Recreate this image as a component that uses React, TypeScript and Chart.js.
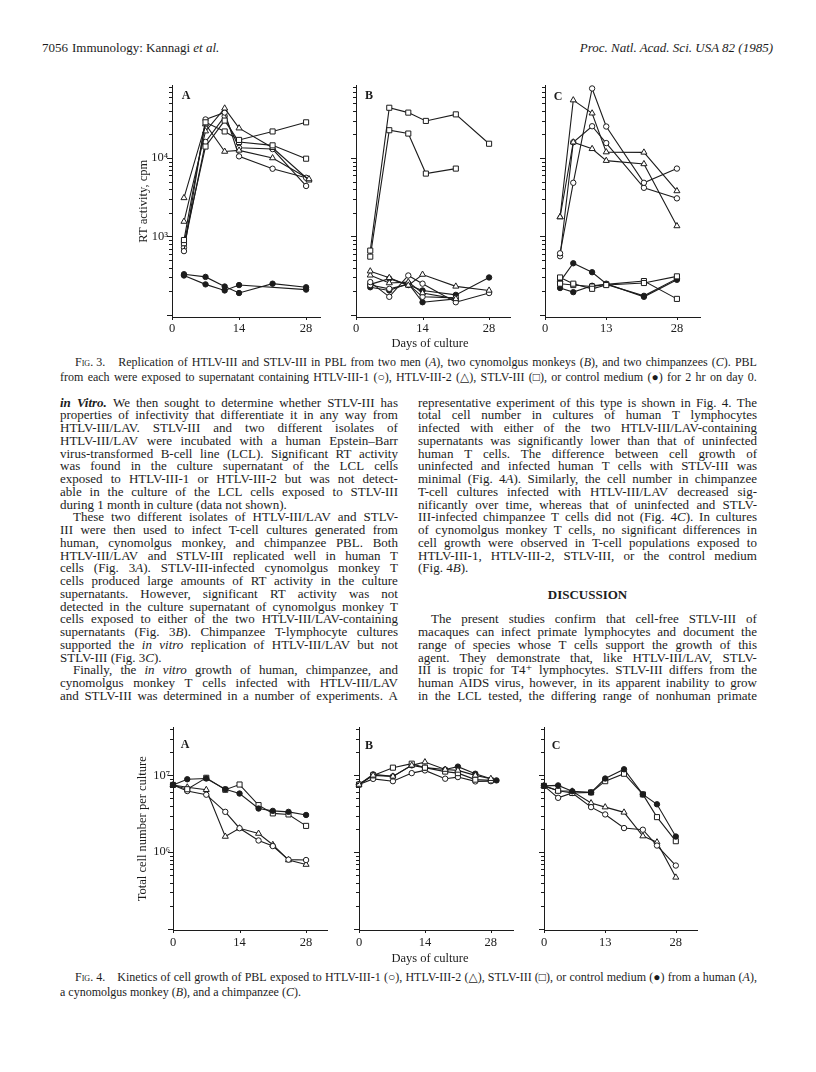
import React, { useEffect, useRef } from "react";
import { Chart, registerables } from "chart.js";

Chart.register(...registerables);

const INK = "#1c1c1c";
const SERIF = '"Liberation Serif", "Times New Roman", Times, "DejaVu Serif", serif';
Chart.defaults.font.family = SERIF;

type Kind = "circle" | "triangle" | "square" | "filled";
type Series = { days: number[]; values: (number | null)[]; kind: Kind };

// ---------------- Fig. 3 : RT activity, cpm ----------------
const fig3A_days = [2.5, 7, 11, 14, 21, 28];
const fig3A_triDays = [2.5, 7, 11, 14, 21, 28.6];
const fig3A_sq1 = [900, 28500, 21800, 17000, 21800, 28500];
const fig3A_sq2 = [820, 14000, 30000, 16000, 14500, 9800];
const fig3A_tri1 = [3100, 27000, 12100, 12500, 10000, 5400];
const fig3A_tri2 = [1550, 22000, 43000, 24000, 13500, 5200];
const fig3A_circ1 = [650, 31000, 38000, 10500, 7300, 5600];
const fig3A_circ2 = [720, 16000, 34000, 13500, 13000, 4400];
const fig3A_ctl1 = [330, 305, 230, 190, 250, 225];
const fig3A_ctl2 = [318, 245, 205, 240, null, 210];

const fig3B_days = [3, 7, 11, 14, 21, 28];
const fig3B_sqDays = [3, 7, 11, 14.7, 21, 28];
const fig3B_sq1 = [660, 43700, 37900, 29700, 36000, 15200];
const fig3B_sq2 = [553, 22600, 20500, 6330, 7330, null];
const fig3B_tri1 = [361, 297, 238, 327, 231, 205];
const fig3B_tri2 = [320, 255, 262, 190, 160, null];
const fig3B_circ1 = [262, 170, 318, 250, 145, 190];
const fig3B_circ2 = [240, 215, 245, 170, 165, null];
const fig3B_ctl1 = [245, 290, 240, 205, 180, 300];
const fig3B_ctl2 = [225, 205, 252, 145, 160, null];

const fig3C_days = [3.2, 6, 10, 13, 21, 28];
const fig3C_tri1 = [1770, 54700, 37200, 11900, 11800, 3800];
const fig3C_tri2 = [1770, 15900, 13100, 9250, 8400, 1360];
const fig3C_circ1 = [610, 4830, 77000, 25200, 4830, 7330];
const fig3C_circ2 = [560, 15900, 25400, 15500, 4170, 3060];
const fig3C_sq1 = [300, 250, 215, 240, 255, 310];
const fig3C_sq2 = [250, 240, 230, 245, 270, 160];
const fig3C_ctl1 = [265, 455, 350, 250, 170, 280];
const fig3C_ctl2 = [220, 195, 235, 245, 175, 290];

// ---------------- Fig. 4 : total cell number per culture ----------------
const fig4A_days = [0, 3, 7, 11, 14, 18, 21, 24.3, 28];
const fig4A_ctl = [7.5e6, 8.9e6, 9.1e6, 6.6e6, 5.8e6, 3.7e6, 3.45e6, 3.35e6, 3.05e6];
const fig4A_sq = [7.5e6, 6.6e6, 9.3e6, 6.5e6, 7.6e6, 4.1e6, 3.2e6, 3.1e6, 2.2e6];
const fig4A_circ = [7.5e6, 6.25e6, 5.6e6, 3.35e6, 2.05e6, 1.42e6, 1.2e6, 8.0e5, 7.9e5];
const fig4A_tri = [7.5e6, 7.0e6, 6.5e6, 1.6e6, 2.05e6, 1.75e6, 1.25e6, 7.9e5, 6.9e5];

const fig4B_days = [0, 3, 7.2, 11.2, 14, 18.3, 21, 24.7, 28];
const fig4B_ctlDays = [0, 3, 7.2, 11.2, 14, 18.3, 21, 24.7, 29.2];
const fig4B_tri = [7.6e6, 1.0e7, 9.7e6, 1.35e7, 1.49e7, 1.19e7, 1.16e7, 1.0e7, 9.05e6];
const fig4B_sq = [7.6e6, 1.0e7, 1.26e7, 1.42e7, 1.26e7, 1.12e7, 1.07e7, 8.8e6, 8.6e6];
const fig4B_ctl = [7.6e6, 1.03e7, 9.7e6, 1.35e7, 1.26e7, 1.19e7, 1.3e7, 1.05e7, 8.6e6];
const fig4B_circ = [7.6e6, 9.0e6, 8.4e6, 1.07e7, 1.16e7, 9.05e6, 9.5e6, 8.35e6, 8.4e6];

const fig4C_days = [0, 3, 6, 10, 13, 17, 21, 24, 28];
const fig4C_ctl = [7.3e6, 7.4e6, 6.2e6, 6.0e6, 9.1e6, 1.2e7, 5.65e6, 4.2e6, 1.6e6];
const fig4C_sq = [7.3e6, 6.3e6, 5.9e6, 6.0e6, 8.4e6, 1.05e7, 5.65e6, 2.86e6, 1.39e6];
const fig4C_circ = [7.3e6, 5.1e6, 5.9e6, 3.86e6, 3.1e6, 2.06e6, 1.96e6, 1.22e6, 6.7e5];
const fig4C_tri = [7.3e6, 6.3e6, 6.2e6, 4.36e6, 3.86e6, 3.3e6, 1.62e6, 1.35e6, 4.7e5];

// ---------------- axes ----------------
const xTicks14 = [0, 14, 28];
const xTicks13 = [0, 13, 28];
const fig3_yLabelled = [1000, 10000];
const fig4_yLabelled = [1e6, 1e7];
const SUP: Record<string, string> = { "2": "²", "3": "³", "4": "⁴", "5": "⁵", "6": "⁶", "7": "⁷" };

function logTickValues(min: number, max: number) {
  const out: number[] = [];
  for (let e = Math.floor(Math.log10(min)); e <= Math.ceil(Math.log10(max)); e++) {
    for (let m = 1; m <= 9; m++) {
      const v = m * Math.pow(10, e);
      if (v >= min * 1.02 && v <= max) out.push(v);
    }
  }
  return out;
}

type PanelCfg = {
  axisX: number; top: number; bottom: number; right: number;
  xMax: number; yMin: number; yMax: number; xTicks: number[];
  yLabelled: number[] | null; yTitle: string | null; titleCenter: number;
  xPad: number; yPad: number; series: Series[];
};

const YW = 48, TP = 10, RP = 10, XH = 26;
const TICK_SIZE = 12.5;
const TITLE_SIZE = 12.5;

const tickPlugin = {
  id: "tickmarks",
  afterDraw(chart: any) {
    const { ctx, chartArea: a } = chart;
    const ys = chart.scales.y, xs = chart.scales.x;
    ctx.save();
    ctx.strokeStyle = INK;
    ctx.lineWidth = 1;
    ys.ticks.forEach((t: any) => {
      const py = Math.round(ys.getPixelForValue(t.value)) + 0.5;
      const lg = Math.log10(t.value);
      const len = Math.abs(lg - Math.round(lg)) < 1e-6 ? 5 : 3;
      ctx.beginPath();
      ctx.moveTo(a.left, py);
      ctx.lineTo(a.left - len, py);
      ctx.stroke();
    });
    xs.ticks.forEach((t: any) => {
      const px = Math.round(xs.getPixelForValue(t.value)) + 0.5;
      ctx.beginPath();
      ctx.moveTo(px, a.bottom);
      ctx.lineTo(px, a.bottom + 3);
      ctx.stroke();
    });
    ctx.restore();
  },
};

function styleFor(kind: Kind) {
  if (kind === "triangle") return { pointStyle: "triangle", pointRadius: 3.5, bg: "#fff" };
  if (kind === "square") return { pointStyle: "rect", pointRadius: 3.6, bg: "#fff" };
  if (kind === "filled") return { pointStyle: "circle", pointRadius: 2.7, bg: INK };
  return { pointStyle: "circle", pointRadius: 2.7, bg: "#fff" };
}

function Panel({ cfg }: { cfg: PanelCfg }) {
  const ref = useRef<HTMLCanvasElement>(null);
  const left = cfg.axisX - YW;
  const top = cfg.top - TP;
  const width = cfg.right - left + RP;
  const height = cfg.bottom + XH - top;
  useEffect(() => {
    const yVals = logTickValues(cfg.yMin, cfg.yMax);
    const datasets = cfg.series.map((s) => {
      const st = styleFor(s.kind);
      const data: { x: number; y: number }[] = [];
      s.days.forEach((d, i) => {
        const v = s.values[i];
        if (v != null) data.push({ x: d, y: v });
      });
      return {
        data,
        borderColor: INK,
        borderWidth: 1.1,
        pointStyle: st.pointStyle,
        pointRadius: st.pointRadius,
        pointBackgroundColor: st.bg,
        pointBorderColor: INK,
        pointBorderWidth: 1,
        fill: false,
        tension: 0,
        clip: false,
      };
    });
    const chart = new Chart(ref.current as HTMLCanvasElement, {
      type: "line",
      data: { datasets } as any,
      options: {
        responsive: false,
        maintainAspectRatio: false,
        animation: false,
        devicePixelRatio: 1,
        events: [],
        layout: { padding: { top: TP, right: RP, left: 0, bottom: 0 } },
        plugins: { legend: { display: false }, tooltip: { enabled: false } },
        scales: {
          x: {
            type: "linear",
            min: 0,
            max: cfg.xMax,
            afterBuildTicks: (s: any) => { s.ticks = cfg.xTicks.map((v) => ({ value: v })); },
            afterFit: (s: any) => { s.height = XH; },
            ticks: { autoSkip: false, maxRotation: 0, padding: cfg.xPad, color: INK, font: { family: SERIF, size: TICK_SIZE }, callback: (v: any) => String(v) },
            grid: { display: false, drawTicks: false },
            border: { display: true, color: INK, width: 1 },
          },
          y: {
            type: "logarithmic",
            min: cfg.yMin,
            max: cfg.yMax,
            afterBuildTicks: (s: any) => { s.ticks = yVals.map((v) => ({ value: v })); },
            afterFit: (s: any) => { s.width = YW; },
            ticks: {
              autoSkip: false,
              padding: cfg.yPad,
              color: INK,
              font: { family: SERIF, size: TICK_SIZE },
              callback: (v: any) => {
                if (!cfg.yLabelled) return "";
                const hit = cfg.yLabelled.find((L) => Math.abs(L - v) / L < 1e-6);
                if (!hit) return "";
                return "10" + SUP[String(Math.round(Math.log10(hit)))];
              },
            },
            grid: { display: false, drawTicks: false },
            border: { display: true, color: INK, width: 1 },
            title: cfg.yTitle
              ? { display: true, text: cfg.yTitle, color: INK, font: { family: SERIF, size: TITLE_SIZE }, padding: { top: cfg.titleCenter - left - TITLE_SIZE * 0.6, bottom: 0 } }
              : { display: false },
          },
        },
      } as any,
      plugins: [tickPlugin],
    });
    return () => chart.destroy();
  }, []);
  return (
    <div style={{ position: "absolute", left, top, width, height }}>
      <canvas ref={ref} width={width} height={height} style={{ width, height, display: "block" }} />
    </div>
  );
}

const FIG3_YMIN = 94, FIG3_YMAX = 84000;
const FIG4_YMIN = 97000, FIG4_YMAX = 4.2e7;

const panels: PanelCfg[] = [
  {
    axisX: 172, top: 84, bottom: 317, right: 320, xMax: 30.9, yMin: FIG3_YMIN, yMax: FIG3_YMAX,
    xTicks: xTicks14, yLabelled: fig3_yLabelled, yTitle: "RT activity, cpm", titleCenter: 144, xPad: 4, yPad: 4,
    series: [
      { days: fig3A_days, values: fig3A_sq1, kind: "square" },
      { days: fig3A_days, values: fig3A_sq2, kind: "square" },
      { days: fig3A_triDays, values: fig3A_tri1, kind: "triangle" },
      { days: fig3A_triDays, values: fig3A_tri2, kind: "triangle" },
      { days: fig3A_days, values: fig3A_circ1, kind: "circle" },
      { days: fig3A_days, values: fig3A_circ2, kind: "circle" },
      { days: fig3A_days, values: fig3A_ctl1, kind: "filled" },
      { days: fig3A_days, values: fig3A_ctl2, kind: "filled" },
    ],
  },
  {
    axisX: 356, top: 84, bottom: 317, right: 510, xMax: 32.4, yMin: FIG3_YMIN, yMax: FIG3_YMAX,
    xTicks: xTicks14, yLabelled: null, yTitle: null, titleCenter: 0, xPad: 4, yPad: 4,
    series: [
      { days: fig3B_sqDays, values: fig3B_sq1, kind: "square" },
      { days: fig3B_sqDays, values: fig3B_sq2, kind: "square" },
      { days: fig3B_days, values: fig3B_tri1, kind: "triangle" },
      { days: fig3B_days, values: fig3B_tri2, kind: "triangle" },
      { days: fig3B_days, values: fig3B_circ1, kind: "circle" },
      { days: fig3B_days, values: fig3B_circ2, kind: "circle" },
      { days: fig3B_days, values: fig3B_ctl1, kind: "filled" },
      { days: fig3B_days, values: fig3B_ctl2, kind: "filled" },
    ],
  },
  {
    axisX: 545, top: 84, bottom: 317, right: 700, xMax: 32.9, yMin: FIG3_YMIN, yMax: FIG3_YMAX,
    xTicks: xTicks13, yLabelled: null, yTitle: null, titleCenter: 0, xPad: 4, yPad: 4,
    series: [
      { days: fig3C_days, values: fig3C_tri1, kind: "triangle" },
      { days: fig3C_days, values: fig3C_tri2, kind: "triangle" },
      { days: fig3C_days, values: fig3C_circ1, kind: "circle" },
      { days: fig3C_days, values: fig3C_circ2, kind: "circle" },
      { days: fig3C_days, values: fig3C_sq1, kind: "square" },
      { days: fig3C_days, values: fig3C_sq2, kind: "square" },
      { days: fig3C_days, values: fig3C_ctl1, kind: "filled" },
      { days: fig3C_days, values: fig3C_ctl2, kind: "filled" },
    ],
  },
  {
    axisX: 173, top: 727, bottom: 930, right: 327, xMax: 32.4, yMin: FIG4_YMIN, yMax: FIG4_YMAX,
    xTicks: xTicks14, yLabelled: fig4_yLabelled, yTitle: "Total cell number per culture", titleCenter: 143, xPad: 5, yPad: 3,
    series: [
      { days: fig4A_days, values: fig4A_ctl, kind: "filled" },
      { days: fig4A_days, values: fig4A_sq, kind: "square" },
      { days: fig4A_days, values: fig4A_circ, kind: "circle" },
      { days: fig4A_days, values: fig4A_tri, kind: "triangle" },
    ],
  },
  {
    axisX: 359, top: 727, bottom: 930, right: 513, xMax: 32.7, yMin: FIG4_YMIN, yMax: FIG4_YMAX,
    xTicks: xTicks14, yLabelled: null, yTitle: null, titleCenter: 0, xPad: 5, yPad: 3,
    series: [
      { days: fig4B_days, values: fig4B_tri, kind: "triangle" },
      { days: fig4B_days, values: fig4B_sq, kind: "square" },
      { days: fig4B_ctlDays, values: fig4B_ctl, kind: "filled" },
      { days: fig4B_days, values: fig4B_circ, kind: "circle" },
    ],
  },
  {
    axisX: 544, top: 727, bottom: 930, right: 697, xMax: 32.5, yMin: FIG4_YMIN, yMax: FIG4_YMAX,
    xTicks: xTicks13, yLabelled: null, yTitle: null, titleCenter: 0, xPad: 5, yPad: 3,
    series: [
      { days: fig4C_days, values: fig4C_ctl, kind: "filled" },
      { days: fig4C_days, values: fig4C_sq, kind: "square" },
      { days: fig4C_days, values: fig4C_circ, kind: "circle" },
      { days: fig4C_days, values: fig4C_tri, kind: "triangle" },
    ],
  },
];

// ---------------- text ----------------
function rich(text: string) {
  const out: React.ReactNode[] = [];
  let it = false, bi = false, sc = false, buf = "";
  const flush = () => {
    if (buf) {
      const st: React.CSSProperties = {};
      if (it || bi) st.fontStyle = "italic";
      if (bi) st.fontWeight = "bold";
      if (sc) st.fontVariant = "small-caps";
      out.push(<span key={out.length} style={st}>{buf}</span>);
      buf = "";
    }
  };
  for (const ch of text) {
    if (ch === "_") { flush(); it = !it; }
    else if (ch === "#") { flush(); bi = !bi; }
    else if (ch === "^") { flush(); sc = !sc; }
    else buf += ch;
  }
  flush();
  return out;
}

type LineProps = { x: number; cy: number; w: number; text: string; size: number; lh: number; justify?: boolean; align?: "left" | "center" | "right"; bold?: boolean };
function TextLine({ x, cy, w, text, size, lh, justify, align, bold }: LineProps) {
  const base: React.CSSProperties = {
    position: "absolute", left: x, top: cy - lh / 2, width: w, height: lh, lineHeight: lh + "px",
    fontSize: size, fontFamily: SERIF, color: INK, whiteSpace: "pre", fontWeight: bold ? "bold" : "normal",
  };
  if (justify) {
    return (
      <div style={{ ...base, display: "flex", justifyContent: "space-between" }}>
        {text.split(" ").map((t, i) => <span key={i}>{rich(t)}</span>)}
      </div>
    );
  }
  return <div style={{ ...base, textAlign: align || "left" }}>{rich(text)}</div>;
}

// [text, justified, indent]
const leftColumn: [string, boolean, number][] = [
  ["#in# #Vitro.# We then sought to determine whether STLV-III has", true, 0],
  ["properties of infectivity that differentiate it in any way from", true, 0],
  ["HTLV-III/LAV. STLV-III and two different isolates of", true, 0],
  ["HTLV-III/LAV were incubated with a human Epstein–Barr", true, 0],
  ["virus-transformed B-cell line (LCL). Significant RT activity", true, 0],
  ["was found in the culture supernatant of the LCL cells", true, 0],
  ["exposed to HTLV-III-1 or HTLV-III-2 but was not detect-", true, 0],
  ["able in the culture of the LCL cells exposed to STLV-III", true, 0],
  ["during 1 month in culture (data not shown).", false, 0],
  ["These two different isolates of HTLV-III/LAV and STLV-", true, 13],
  ["III were then used to infect T-cell cultures generated from", true, 0],
  ["human, cynomolgus monkey, and chimpanzee PBL. Both", true, 0],
  ["HTLV-III/LAV and STLV-III replicated well in human T", true, 0],
  ["cells (Fig. 3_A_). STLV-III-infected cynomolgus monkey T", true, 0],
  ["cells produced large amounts of RT activity in the culture", true, 0],
  ["supernatants. However, significant RT activity was not", true, 0],
  ["detected in the culture supernatant of cynomolgus monkey T", true, 0],
  ["cells exposed to either of the two HTLV-III/LAV-containing", true, 0],
  ["supernatants (Fig. 3_B_). Chimpanzee T-lymphocyte cultures", true, 0],
  ["supported the _in_ _vitro_ replication of HTLV-III/LAV but not", true, 0],
  ["STLV-III (Fig. 3_C_).", false, 0],
  ["Finally, the _in_ _vitro_ growth of human, chimpanzee, and", true, 13],
  ["cynomolgus monkey T cells infected with HTLV-III/LAV", true, 0],
  ["and STLV-III was determined in a number of experiments. A", true, 0],
];

const rightColumn: ([string, boolean, number] | null)[] = [
  ["representative experiment of this type is shown in Fig. 4. The", true, 0],
  ["total cell number in cultures of human T lymphocytes", true, 0],
  ["infected with either of the two HTLV-III/LAV-containing", true, 0],
  ["supernatants was significantly lower than that of uninfected", true, 0],
  ["human T cells. The difference between cell growth of", true, 0],
  ["uninfected and infected human T cells with STLV-III was", true, 0],
  ["minimal (Fig. 4_A_). Similarly, the cell number in chimpanzee", true, 0],
  ["T-cell cultures infected with HTLV-III/LAV decreased sig-", true, 0],
  ["nificantly over time, whereas that of uninfected and STLV-", true, 0],
  ["III-infected chimpanzee T cells did not (Fig. 4_C_). In cultures", true, 0],
  ["of cynomolgus monkey T cells, no significant differences in", true, 0],
  ["cell growth were observed in T-cell populations exposed to", true, 0],
  ["HTLV-III-1, HTLV-III-2, STLV-III, or the control medium", true, 0],
  ["(Fig. 4_B_).", false, 0],
  null,
  null,
  null,
  ["The present studies confirm that cell-free STLV-III of", true, 13],
  ["macaques can infect primate lymphocytes and document the", true, 0],
  ["range of species whose T cells support the growth of this", true, 0],
  ["agent. They demonstrate that, like HTLV-III/LAV, STLV-", true, 0],
  ["III is tropic for T4⁺ lymphocytes. STLV-III differs from the", true, 0],
  ["human AIDS virus, however, in its apparent inability to grow", true, 0],
  ["in the LCL tested, the differing range of nonhuman primate", true, 0],
];

const BODY_Y0 = 403;
const BODY_LH = 12.75;
const BODY_SIZE = 13;
const CAP_SIZE = 12;
const COL_L = 60, COL_R = 418, COL_W = 339;

const panelLetters: [string, number, number][] = [
  ["A", 186, 95], ["B", 369, 95], ["C", 558, 96],
  ["A", 185, 744], ["B", 369, 745], ["C", 556, 745],
];

export default function App() {
  return (
    <div style={{ position: "absolute", left: 0, top: 0, width: 816, height: 1072, background: "#fff", overflow: "hidden", fontFamily: SERIF, color: INK }}>
      {/* running head */}
      <TextLine x={42} cy={47} w={40} text="7056" size={13} lh={15} />
      <TextLine x={72} cy={47} w={300} text="Immunology: Kannagi _et al._" size={13} lh={15} />
      <TextLine x={473} cy={47} w={300} text="_Proc. Natl. Acad. Sci. USA 82 (1985)_" size={13} lh={15} align="right" />

      {panels.map((p, i) => <Panel key={i} cfg={p} />)}

      {panelLetters.map(([t, x, y], i) => (
        <div key={i} style={{ position: "absolute", left: x - 7, top: y - 8, width: 14, height: 16, lineHeight: "16px", textAlign: "center", fontSize: 12, fontWeight: "bold", fontFamily: SERIF, color: INK }}>{t}</div>
      ))}

      <TextLine x={330} cy={343} w={200} text="Days of culture" size={12.5} lh={15} align="center" />
      <TextLine x={75} cy={362} w={682} size={CAP_SIZE} lh={14} justify
        text={"F^ig^.\u00a03.\u00a0\u00a0\u00a0 Replication of HTLV-III and STLV-III in PBL from two men (_A_), two cynomolgus monkeys (_B_), and two chimpanzees (_C_). PBL"} />
      <TextLine x={60} cy={377} w={697} size={CAP_SIZE} lh={14} justify
        text={"from each were exposed to supernatant containing HTLV-III-1 (○), HTLV-III-2 (△), STLV-III (□), or control medium (●) for 2 hr on day 0."} />

      {leftColumn.map(([t, j, ind], i) => (
        <TextLine key={"l" + i} x={COL_L + ind} cy={BODY_Y0 + i * BODY_LH} w={COL_W - 1 - ind} text={t} size={BODY_SIZE} lh={BODY_LH} justify={j} />
      ))}
      {rightColumn.map((row, i) =>
        row ? (
          <TextLine key={"r" + i} x={COL_R + row[2]} cy={BODY_Y0 + i * BODY_LH} w={COL_W - row[2]} text={row[0]} size={BODY_SIZE} lh={BODY_LH} justify={row[1]} />
        ) : null
      )}
      <TextLine x={COL_R} cy={BODY_Y0 + 15 * BODY_LH} w={COL_W} text="DISCUSSION" size={13} lh={15} align="center" bold />

      <TextLine x={330} cy={958} w={200} text="Days of culture" size={12.5} lh={15} align="center" />
      <TextLine x={75} cy={977} w={682} size={CAP_SIZE} lh={14} justify
        text={"F^ig^.\u00a04.\u00a0\u00a0\u00a0 Kinetics of cell growth of PBL exposed to HTLV-III-1 (○), HTLV-III-2 (△), STLV-III (□), or control medium (●) from a human (_A_),"} />
      <TextLine x={60} cy={992} w={697} size={CAP_SIZE} lh={14}
        text={"a cynomolgus monkey (_B_), and a chimpanzee (_C_)."} />
    </div>
  );
}
